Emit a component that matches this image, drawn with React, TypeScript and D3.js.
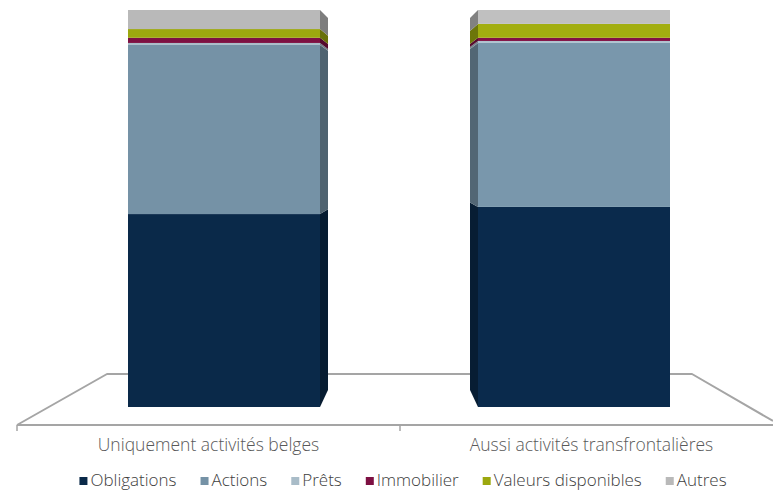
import { useRef, useEffect } from 'react';
import * as d3 from 'd3';

const categories = ['Uniquement activités belges', 'Aussi activités transfrontalières'];
const seriesNames = ['Obligations', 'Actions', 'Prêts', 'Immobilier', 'Valeurs disponibles', 'Autres'];
const obligations = [48.6, 50.4];
const actions = [42.6, 41.3];
const prets = [0.5, 0.5];
const immobilier = [1.3, 0.8];
const valeurs = [2.2, 3.5];
const autres = [4.8, 3.5];
const seriesColors = ['#0a2949', '#7592a6', '#a9bcc8', '#7d1042', '#9ca80f', '#b9b9b9'];

const WIDTH = 773;
const HEIGHT = 491;
const FONT = '"Open Sans", Lato, sans-serif';

export default function App() {
  const svgRef = useRef<SVGSVGElement>(null);

  useEffect(() => {
    if (!svgRef.current) return;
    const svg = d3.select(svgRef.current);
    svg.selectAll('*').remove();

    const seriesValues = [obligations, actions, prets, immobilier, valeurs, autres];
    const rows = categories.map((c, i) => {
      const r: Record<string, number | string> = { category: c };
      seriesNames.forEach((s, j) => (r[s] = seriesValues[j][i]));
      return r;
    });
    const stacked = d3.stack<any>().keys(seriesNames)(rows);

    // axis (floor) band scale and bar band scale (bars pulled inward by perspective)
    const xAxis = d3.scaleBand().domain(categories).range([17, 783]);
    const xBar = d3.scaleBand().domain(categories).range([128, 670]).paddingInner(158 / 350);
    const y = d3.scaleLinear().domain([0, 100]).range([407, 10]);
    const yBack = d3.scaleLinear().domain([0, 100]).range([390, 18]);
    const depth = 8;
    const mid = WIDTH / 2;

    // floor
    const floor = svg.append('g').attr('fill', 'none').attr('stroke', '#a5a5a5').attr('stroke-width', 2);
    floor
      .append('path')
      .attr('d', 'M17,425 L107,374 L692,374 L773,421')
      .attr('stroke-linejoin', 'round');
    floor.append('line').attr('x1', 17).attr('x2', 773).attr('y1', 425).attr('y2', 425);
    [17, 400].forEach((t) => {
      floor.append('line').attr('x1', t).attr('x2', t).attr('y1', 425).attr('y2', 431).attr('stroke-width', 1.5);
    });

    // bars
    categories.forEach((cat, ci) => {
      const x0 = xBar(cat)!;
      const w = xBar.bandwidth();
      const rightSide = x0 + w / 2 < mid;
      const xf = rightSide ? x0 + w : x0;
      const xb = rightSide ? xf + depth : xf - depth;
      const g = svg.append('g');
      stacked.forEach((layer, si) => {
        const d = layer[ci];
        let col = d3.color(seriesColors[si])!;
        if (ci === 1) col = col.brighter(0.1);
        g.append('rect')
          .attr('x', x0)
          .attr('y', y(d[1]))
          .attr('width', w)
          .attr('height', y(d[0]) - y(d[1]))
          .attr('fill', col.toString());
        g.append('path')
          .attr(
            'd',
            `M${xf},${y(d[0])} L${xf},${y(d[1])} L${xb},${yBack(d[1])} L${xb},${yBack(d[0])} Z`
          )
          .attr('fill', col.darker(1.1).toString());
      });
    });

    // category labels
    svg
      .append('g')
      .selectAll('text')
      .data(categories)
      .enter()
      .append('text')
      .attr('x', (d) => xAxis(d)! + xAxis.bandwidth() / 2)
      .attr('y', 451)
      .attr('text-anchor', 'middle')
      .style('font-family', FONT)
      .style('font-size', '17.5px')
      .style('font-weight', 300)
      .style('fill', '#595959')
      .text((d) => d);

    // legend
    const legend = svg.append('g');
    const items = seriesNames.map((name, i) => {
      const it = legend.append('g');
      it.append('rect').attr('width', 8).attr('height', 8).attr('y', -9).attr('fill', seriesColors[i]);
      const t = it
        .append('text')
        .attr('x', 11)
        .style('font-family', FONT)
        .style('font-size', '17px')
        .style('font-weight', 300)
        .style('fill', '#404040')
        .text(name);
      return { it, w: 11 + (t.node() as SVGTextElement).getComputedTextLength() };
    });
    const gap = 24;
    const total = d3.sum(items, (d) => d.w) + gap * (items.length - 1);
    let cx = 403 - total / 2;
    items.forEach(({ it, w }) => {
      it.attr('transform', `translate(${cx},486)`);
      cx += w + gap;
    });
  }, []);

  return (
    <svg
      ref={svgRef}
      width={WIDTH}
      height={HEIGHT}
      style={{ position: 'absolute', left: 0, top: 0, background: '#fff' }}
    />
  );
}
